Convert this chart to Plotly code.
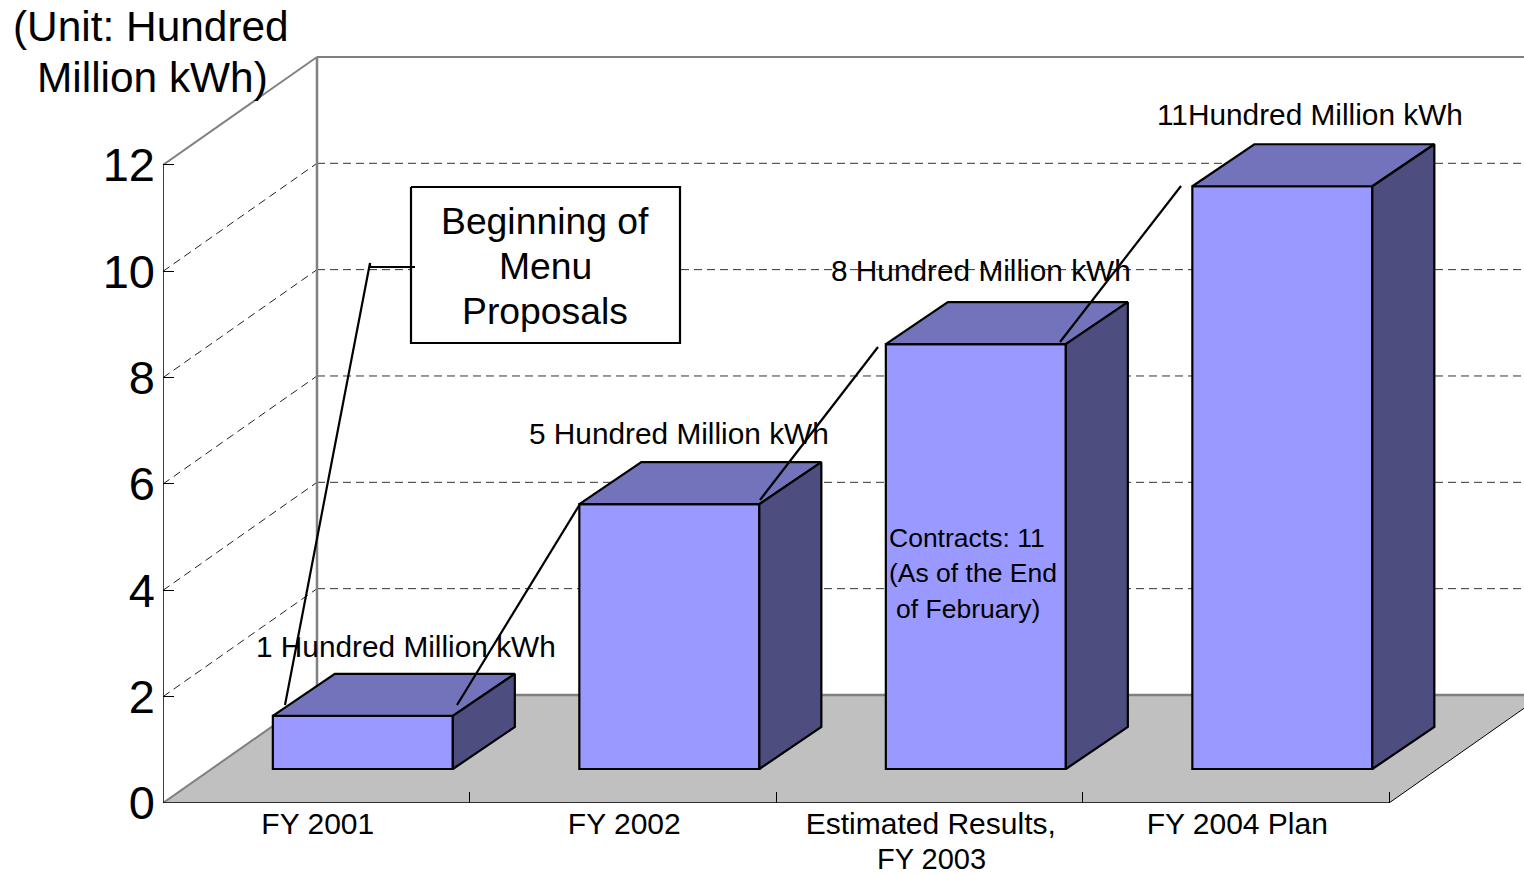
import plotly.graph_objects as go

categories = ["FY 2001", "FY 2002", "Estimated Results,", "FY 2004 Plan"]
values = [1.0, 4.98, 7.99, 10.96]
y_ticks = [0, 2, 4, 6, 8, 10, 12]
value_labels = ["1 Hundred Million kWh", "5 Hundred Million kWh", "8 Hundred Million kWh", "11Hundred Million kWh"]

W, H = 1524, 874
X0, Y0 = 163, 803
PX_CAT, PX_UNIT = 306.5, 53.17
FONT = "Liberation Sans, Arial, sans-serif"

def dx(px):
    return (px - X0) / PX_CAT

def dy(py):
    return (Y0 - py) / PX_UNIT

x_max, y_max = dx(W), dy(0)
n = len(categories)
wall_dx, wall_dy = 154 / PX_CAT, 108 / PX_UNIT
bar_dx, bar_dy = 62 / PX_CAT, 42 / PX_UNIT
bar_shift, bar_base, bar_w = 0.152, 34 / PX_UNIT, 180 / PX_CAT
bar_x = [i + 0.5 + bar_shift for i in range(n)]

GREY = "#808080"
shapes = []

def line(x0, y0, x1, y1, color, width, dash="solid", layer="below"):
    shapes.append(dict(type="line", x0=x0, y0=y0, x1=x1, y1=y1, layer=layer,
                       line=dict(color=color, width=width, dash=dash)))

# floor
shapes.append(dict(type="path", layer="below", fillcolor="#C0C0C0", line=dict(width=0),
                   path=f"M 0 0 L {wall_dx} {wall_dy} L {n + wall_dx} {wall_dy} L {n} 0 Z"))
# dashed grid on the side wall and back wall
for v in y_ticks[1:-1]:
    line(0, v, wall_dx, v + wall_dy, "#222222", 1, "8px,5px")
    line(wall_dx, v + wall_dy, x_max, v + wall_dy, "#333333", 1, "8px,5px")
# wall frame
top = y_ticks[-1]
line(0, top, wall_dx, top + wall_dy, GREY, 2)
line(wall_dx, top + wall_dy, x_max, top + wall_dy, GREY, 2)
line(wall_dx, wall_dy, wall_dx, top + wall_dy, GREY, 2.5)
line(0, 0, wall_dx, wall_dy, GREY, 2)
line(wall_dx, wall_dy, x_max, wall_dy, GREY, 2.5)
line(n, 0, n + wall_dx, wall_dy, "#000000", 1)
# front axes
line(0, 0, 0, top, "#000000", 1.5)
line(0, 0, n, 0, "#000000", 1.5)

fig = go.Figure()
fig.add_trace(go.Bar(x=bar_x, y=values, base=bar_base, width=bar_w,
                     marker=dict(color="#9999FF", line=dict(color="#000000", width=2.2)),
                     showlegend=False, hoverinfo="skip"))

for xc, v in zip(bar_x, values):
    l, r = xc - bar_w / 2, xc + bar_w / 2
    b, t = bar_base, bar_base + v
    fig.add_trace(go.Scatter(x=[l, l + bar_dx, r + bar_dx, r, l], y=[t, t + bar_dy, t + bar_dy, t, t],
                             mode="lines", fill="toself", fillcolor="#7373BB",
                             line=dict(color="#000000", width=2.2), showlegend=False, hoverinfo="skip"))
    fig.add_trace(go.Scatter(x=[r, r + bar_dx, r + bar_dx, r, r], y=[t, t + bar_dy, b + bar_dy, b, t],
                             mode="lines", fill="toself", fillcolor="#4D4D7F",
                             line=dict(color="#000000", width=2.2), showlegend=False, hoverinfo="skip"))

# callout box
bx = [dx(411), dx(680), dx(680), dx(411), dx(411)]
by = [dy(187), dy(187), dy(343), dy(343), dy(187)]
fig.add_trace(go.Scatter(x=bx, y=by, mode="lines", fill="toself", fillcolor="#FFFFFF",
                         line=dict(color="#000000", width=2.2), showlegend=False, hoverinfo="skip"))

# leader lines
leaders = [
    [(285, 705), (370, 263), (370, 267), (415, 267)],
    [(457, 705), (580, 504)],
    [(760, 500), (878, 347)],
    [(1060, 342), (1181, 186)],
]
for pts in leaders:
    fig.add_trace(go.Scatter(x=[dx(p[0]) for p in pts], y=[dy(p[1]) for p in pts], mode="lines",
                             line=dict(color="#000000", width=2.2), showlegend=False, hoverinfo="skip"))

texts = [
    ("(Unit: Hundred", 151, 26, 42.4),
    ("Million kWh)", 152, 77, 42.4),
    ("Beginning of", 545, 221, 37.3),
    ("Menu", 545, 266, 37.3),
    ("Proposals", 545, 311, 37.3),
    (value_labels[0], 406, 646, 29.8),
    (value_labels[1], 679, 434, 29.8),
    (value_labels[2], 981, 270, 29.8),
    (value_labels[3], 1310, 114, 29.8),
    ("Contracts: 11", 967, 538, 26.5),
    ("(As of the End", 973, 573, 26.5),
    ("of February)", 968, 609, 26.5),
    ("FY 2003", 931, 859, 29),
]
plot_w, plot_h = W - X0, Y0
annotations = [dict(xref="paper", yref="paper", x=(px - X0) / plot_w, y=(Y0 - py) / plot_h, text=s,
                    showarrow=False, xanchor="center", yanchor="middle",
                    font=dict(family=FONT, size=sz, color="#000000"))
               for s, px, py, sz in texts]

fig.update_layout(
    width=W, height=H, autosize=False,
    margin=dict(l=X0, r=0, t=0, b=H - Y0, pad=0),
    paper_bgcolor="#FFFFFF", plot_bgcolor="#FFFFFF",
    showlegend=False, shapes=shapes, annotations=annotations,
    xaxis=dict(range=[0, x_max], tickvals=[i + 0.505 for i in range(n)], ticktext=categories,
               ticks="", showgrid=False, zeroline=False, showline=False, automargin=False,
               tickfont=dict(family=FONT, size=30, color="#000000"), tickangle=0,
               minor=dict(tickvals=list(range(1, n + 1)), ticks="inside", ticklen=11,
                          tickcolor="#000000", tickwidth=1, showgrid=False)),
    yaxis=dict(range=[0, y_max], tickvals=y_ticks, ticks="inside", ticklen=11, tickcolor="#000000",
               tickwidth=1, showgrid=False, zeroline=False, showline=False, ticklabelstandoff=7,
               automargin=False, tickfont=dict(family=FONT, size=47, color="#000000")),
)

fig.write_html("out.html", config={"displayModeBar": False},
               post_script="document.body.style.margin='0';")
